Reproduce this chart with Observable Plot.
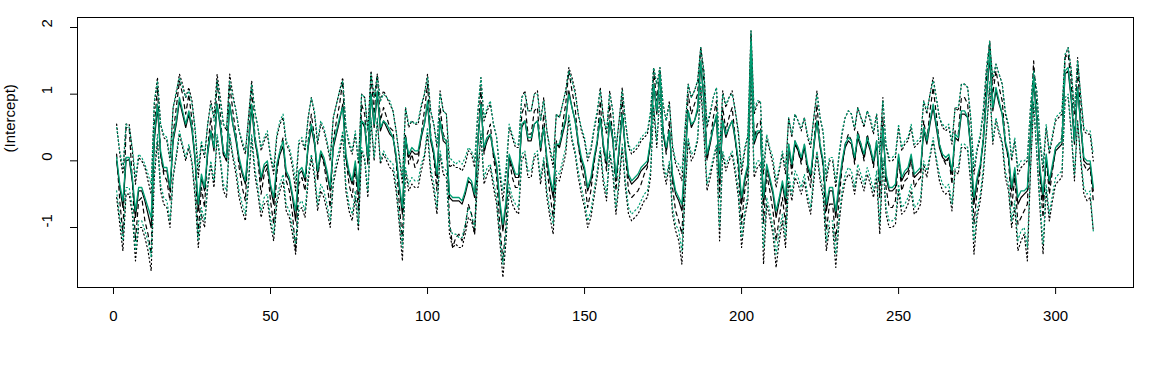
<!DOCTYPE html>
<html>
<head>
<meta charset="utf-8">
<script src="https://cdn.jsdelivr.net/npm/d3@7"></script>
<script src="https://cdn.jsdelivr.net/npm/@observablehq/plot@0.6"></script>
<style>
  html, body { margin: 0; padding: 0; background: #fff; }
  svg { display: block; }
</style>
</head>
<body>
<div id="chart"></div>
<script>
// Time index of the coefficient path
const time = d3.range(1, 313);

// Black solid: estimate (model 1)
const estBlack = [
0.00,-0.40,-0.70,0.00,0.02,-0.30,-0.85,-0.45,-0.45,-0.60,
-0.80,-1.00,0.30,0.80,0.10,-0.15,-0.15,-0.45,0.30,0.55,
0.90,0.70,0.50,0.70,0.45,0.00,-0.75,-0.25,-0.45,0.10,
0.45,0.15,0.85,0.50,0.10,0.00,0.85,0.55,0.30,0.00,
-0.20,-0.35,0.20,0.80,0.30,0.05,-0.30,-0.10,-0.05,-0.40,
-0.65,-0.10,0.10,0.22,-0.20,-0.30,-0.55,-0.90,-0.20,-0.15,
-0.30,0.20,0.50,0.25,-0.20,0.10,0.00,-0.20,-0.45,0.20,
0.40,0.60,0.85,0.05,-0.20,-0.35,-0.05,-0.50,0.60,0.50,
0.00,1.00,0.50,1.00,0.45,0.60,0.50,0.40,0.35,0.05,
-0.40,-0.80,0.35,0.05,0.15,0.10,0.10,0.35,0.55,0.85,
0.30,0.10,-0.25,0.60,0.30,0.25,-0.55,-0.60,-0.60,-0.60,
-0.65,-0.50,-0.30,-0.35,-0.55,0.25,0.85,0.15,0.30,0.40,
0.10,-0.10,-0.65,-1.05,-0.65,0.05,-0.10,-0.25,-0.25,0.50,
0.60,0.30,0.30,0.55,0.60,0.15,0.50,0.00,-0.30,-0.55,
0.25,0.20,0.40,0.60,1.05,0.80,0.60,0.25,0.00,-0.15,
-0.45,-0.30,0.00,0.25,0.65,0.20,-0.05,0.60,0.30,-0.30,
0.15,0.70,0.15,-0.25,-0.35,-0.30,-0.25,-0.15,-0.10,-0.05,
0.25,1.15,0.70,1.30,0.40,0.15,0.45,-0.25,-0.50,-0.60,
-0.75,0.00,0.75,0.50,0.60,0.75,1.45,0.90,0.05,0.25,
0.50,0.65,-0.35,0.60,0.35,0.50,0.60,0.30,-0.05,-0.65,
-0.30,-0.10,1.65,0.25,0.40,0.45,-0.65,-0.10,-0.30,-0.50,
-0.85,-0.60,-0.35,-0.65,0.20,-0.10,0.25,0.15,0.00,0.20,
-0.10,-0.25,0.20,0.60,0.20,-0.05,-0.75,-0.45,-0.45,-0.85,
-0.40,-0.05,0.20,0.30,0.25,0.00,0.35,0.20,0.05,0.30,
0.15,-0.05,0.25,-0.35,0.50,-0.25,-0.45,-0.45,-0.40,0.05,
-0.30,-0.20,-0.15,0.05,-0.25,-0.20,-0.15,0.45,0.25,0.55,
0.80,0.50,0.20,0.05,0.00,0.05,-0.20,0.35,0.30,0.70,
0.70,0.65,0.15,-0.65,-0.30,-0.10,0.30,0.95,1.55,0.75,
1.05,0.85,0.70,0.25,0.05,-0.45,-0.15,-0.65,-0.55,-0.50,
-0.45,0.35,1.20,0.60,-0.15,-0.60,0.05,-0.35,-0.10,0.15,
0.20,0.25,1.30,1.35,0.90,0.25,1.10,0.50,0.00,-0.05,
-0.05,-0.45];

// Green solid: estimate (model 2)
const estGreen = [
0.05,-0.35,-0.60,0.05,0.05,-0.25,-0.75,-0.40,-0.40,-0.55,
-0.70,-0.85,0.40,0.85,0.15,-0.10,-0.10,-0.40,0.35,0.60,
0.95,0.75,0.55,0.75,0.50,0.05,-0.65,-0.20,-0.40,0.15,
0.45,0.20,0.85,0.55,0.15,0.05,0.85,0.55,0.35,0.05,
-0.15,-0.30,0.25,0.85,0.35,0.10,-0.25,-0.05,0.00,-0.35,
-0.55,-0.05,0.15,0.30,-0.15,-0.25,-0.50,-0.75,-0.15,-0.10,
-0.25,0.25,0.55,0.30,-0.15,0.15,0.05,-0.15,-0.40,0.25,
0.45,0.65,0.80,0.10,-0.15,-0.30,0.00,-0.45,0.60,0.55,
0.05,1.00,0.55,1.05,0.50,0.60,0.55,0.45,0.35,0.10,
-0.35,-0.70,0.35,0.10,0.20,0.15,0.15,0.40,0.55,0.90,
0.35,0.15,-0.20,0.60,0.35,0.30,-0.50,-0.55,-0.55,-0.55,
-0.60,-0.45,-0.25,-0.30,-0.50,0.30,0.85,0.20,0.35,0.40,
0.15,-0.05,-0.60,-0.95,-0.60,0.10,-0.05,-0.20,-0.20,0.55,
0.60,0.35,0.35,0.55,0.60,0.20,0.50,0.05,-0.25,-0.45,
0.25,0.25,0.45,0.65,1.00,0.80,0.60,0.30,0.05,-0.10,
-0.40,-0.25,0.05,0.30,0.65,0.25,0.00,0.60,0.35,-0.25,
0.20,0.70,0.20,-0.20,-0.30,-0.25,-0.20,-0.10,-0.05,0.00,
0.30,1.15,0.75,1.30,0.45,0.20,0.45,-0.20,-0.45,-0.55,
-0.65,0.05,0.75,0.55,0.60,0.80,1.50,0.95,0.10,0.30,
0.50,0.70,-0.25,0.60,0.40,0.50,0.60,0.35,0.00,-0.55,
-0.25,-0.05,1.80,0.30,0.45,0.45,-0.55,-0.05,-0.25,-0.45,
-0.75,-0.55,-0.30,-0.55,0.25,-0.05,0.30,0.20,0.05,0.25,
-0.05,-0.20,0.25,0.60,0.25,0.00,-0.65,-0.40,-0.40,-0.75,
-0.35,0.00,0.25,0.35,0.30,0.05,0.40,0.25,0.10,0.35,
0.20,0.00,0.30,-0.30,0.50,-0.20,-0.40,-0.40,-0.35,0.10,
-0.25,-0.15,-0.10,0.10,-0.20,-0.15,-0.10,0.50,0.30,0.60,
0.85,0.55,0.25,0.10,0.05,0.10,-0.15,0.40,0.35,0.75,
0.75,0.65,0.20,-0.55,-0.25,-0.05,0.35,1.00,1.65,0.80,
1.10,0.90,0.70,0.30,0.10,-0.40,-0.10,-0.55,-0.45,-0.45,
-0.40,0.40,1.25,0.65,-0.10,-0.50,0.10,-0.30,-0.05,0.20,
0.25,0.30,1.35,1.40,0.95,0.30,1.10,0.55,0.05,0.00,
0.00,-0.40];

// Black dashed
const dashBlack = [
0.10,-0.60,-1.10,0.50,0.50,-0.30,-1.20,-0.60,-0.55,-0.90,
-1.10,-1.40,0.50,1.10,0.10,-0.20,-0.30,-0.60,0.40,0.80,
1.20,1.00,0.70,1.00,0.60,0.00,-1.10,-0.40,-0.70,0.20,
0.65,0.20,1.20,0.70,0.10,0.00,1.15,0.75,0.40,-0.10,
-0.40,-0.60,0.30,1.10,0.40,0.00,-0.50,-0.20,-0.10,-0.60,
-0.95,-0.20,0.15,0.35,-0.30,-0.45,-0.80,-1.35,-0.35,-0.25,
-0.45,0.30,0.70,0.35,-0.30,0.15,-0.05,-0.35,-0.70,0.30,
0.60,0.85,1.20,0.05,-0.35,-0.55,-0.10,-0.75,0.85,0.70,
-0.05,1.30,0.70,1.30,0.60,0.80,0.65,0.50,0.45,0.00,
-0.65,-1.20,0.40,-0.05,0.10,-0.10,0.00,0.40,0.75,1.15,
0.40,0.05,-0.45,0.80,0.40,0.30,-0.90,-1.30,-1.15,-1.10,
-1.20,-1.00,-0.65,-0.80,-1.10,0.30,1.10,0.10,0.40,0.55,
0.05,-0.25,-0.95,-1.50,-0.95,0.05,-0.25,-0.40,-0.40,0.70,
0.85,0.40,0.40,0.75,0.80,0.15,0.70,-0.10,-0.50,-0.85,
0.30,0.20,0.55,0.85,1.35,1.05,0.80,0.25,-0.10,-0.30,
-0.70,-0.45,-0.05,0.30,0.90,0.20,-0.15,0.85,0.35,-0.45,
0.15,0.95,0.10,-0.45,-0.55,-0.50,-0.45,-0.35,-0.20,-0.10,
0.30,1.35,0.90,1.35,0.50,0.10,0.60,-0.40,-0.75,-0.90,
-1.10,0.00,1.00,0.70,0.85,1.00,1.70,1.20,0.00,0.30,
0.65,0.90,-0.55,0.80,0.45,0.65,0.80,0.35,-0.15,-0.95,
-0.45,-0.20,1.90,0.30,0.55,0.60,-0.95,-0.20,-0.45,-0.75,
-1.20,-0.85,-0.55,-0.95,0.25,-0.20,0.30,0.15,-0.05,0.25,
-0.20,-0.40,0.25,0.85,0.25,-0.10,-1.05,-0.65,-0.65,-1.20,
-0.60,-0.10,0.25,0.40,0.30,-0.05,0.45,0.25,0.00,0.40,
0.20,-0.10,0.30,-0.55,0.65,-0.40,-0.70,-0.70,-0.60,0.05,
-0.45,-0.30,-0.25,0.05,-0.40,-0.30,-0.25,0.60,0.30,0.75,
1.10,0.70,0.25,0.05,-0.05,0.05,-0.35,0.45,0.40,0.95,
0.95,0.85,0.15,-0.95,-0.45,-0.15,0.40,1.25,1.80,1.00,
1.35,1.10,0.90,0.30,0.00,-0.70,-0.25,-0.95,-0.85,-0.75,
-0.65,0.45,1.50,0.80,-0.25,-0.85,0.05,-0.50,-0.15,0.20,
0.25,0.35,1.55,1.60,1.15,0.30,1.40,0.65,-0.05,-0.15,
-0.10,-0.60];

// Black dotted: upper and lower
const upperBlack = [
0.55,0.10,-0.20,0.55,0.55,0.15,-0.35,0.05,0.00,-0.10,
-0.30,-0.50,0.85,1.25,0.55,0.35,0.30,0.00,0.80,1.00,
1.30,1.15,0.95,1.10,0.90,0.45,-0.25,0.25,0.05,0.55,
0.90,0.65,1.30,0.95,0.55,0.45,1.30,1.00,0.75,0.45,
0.25,0.10,0.65,1.20,0.75,0.50,0.15,0.30,0.40,0.05,
-0.20,0.35,0.55,0.65,0.25,0.15,-0.10,-0.45,0.25,0.30,
0.15,0.65,0.95,0.70,0.25,0.55,0.45,0.25,0.00,0.65,
0.85,1.05,1.25,0.50,0.25,0.10,0.40,-0.05,1.00,0.95,
0.45,1.35,0.95,1.30,0.90,1.05,0.95,0.85,0.75,0.45,
0.05,-0.35,0.80,0.50,0.60,0.55,0.55,0.80,1.00,1.30,
0.75,0.55,0.20,1.05,0.75,0.70,-0.10,-0.05,-0.10,-0.10,
-0.15,-0.05,0.15,0.10,-0.10,0.70,1.25,0.60,0.75,0.85,
0.55,0.35,-0.20,-0.60,-0.20,0.50,0.35,0.20,0.20,0.95,
1.05,0.75,0.75,1.00,1.05,0.60,0.95,0.45,0.15,-0.10,
0.70,0.65,0.85,1.05,1.40,1.25,1.05,0.70,0.45,0.30,
0.00,0.15,0.45,0.70,1.10,0.65,0.40,1.05,0.75,0.15,
0.60,1.10,0.60,0.20,0.10,0.15,0.20,0.30,0.35,0.40,
0.70,1.40,1.15,1.40,0.85,0.60,0.90,0.20,-0.05,-0.15,
-0.30,0.45,1.15,0.95,1.05,1.20,1.70,1.35,0.50,0.70,
0.95,1.10,0.10,1.05,0.80,0.95,1.05,0.75,0.40,-0.20,
0.15,0.35,1.95,0.70,0.85,0.90,-0.20,0.35,0.15,-0.05,
-0.40,-0.15,0.10,-0.20,0.65,0.35,0.70,0.60,0.45,0.65,
0.35,0.20,0.65,1.05,0.65,0.40,-0.30,0.00,0.00,-0.40,
0.05,0.40,0.65,0.75,0.70,0.45,0.80,0.65,0.50,0.75,
0.60,0.40,0.70,0.10,0.95,0.20,0.00,0.00,0.05,0.50,
0.15,0.25,0.30,0.50,0.20,0.25,0.30,0.90,0.70,1.00,
1.25,0.95,0.65,0.50,0.45,0.50,0.25,0.80,0.75,1.15,
1.15,1.10,0.60,-0.20,0.15,0.35,0.75,1.40,1.75,1.20,
1.45,1.30,1.15,0.70,0.50,0.00,0.30,-0.20,-0.10,-0.05,
0.00,0.80,1.35,1.05,0.30,-0.15,0.50,0.10,0.35,0.60,
0.65,0.70,1.55,1.70,1.35,0.70,1.55,0.95,0.45,0.40,
0.40,0.00];

const lowerBlack = [
-0.55,-0.95,-1.35,-0.50,-0.50,-0.80,-1.50,-1.00,-1.00,-1.15,
-1.35,-1.65,-0.25,0.30,-0.45,-0.65,-0.70,-1.00,-0.25,0.05,
0.40,0.20,0.00,0.20,-0.05,-0.55,-1.30,-0.80,-1.00,-0.40,
-0.05,-0.40,0.35,0.00,-0.45,-0.55,0.35,0.05,-0.20,-0.55,
-0.75,-0.90,-0.35,0.35,-0.20,-0.50,-0.85,-0.65,-0.60,-0.95,
-1.20,-0.65,-0.45,-0.30,-0.75,-0.85,-1.10,-1.40,-0.75,-0.70,
-0.85,-0.30,0.05,-0.25,-0.75,-0.45,-0.55,-0.75,-1.00,-0.35,
-0.10,0.10,0.40,-0.45,-0.75,-0.90,-0.55,-1.05,0.15,0.00,
-0.55,0.60,0.00,0.60,-0.05,0.10,0.00,-0.10,-0.15,-0.45,
-0.95,-1.50,-0.15,-0.45,-0.35,-0.40,-0.40,-0.15,0.05,0.40,
-0.20,-0.45,-0.80,0.10,-0.20,-0.25,-1.10,-1.30,-1.25,-1.30,
-1.30,-1.10,-0.85,-0.90,-1.10,-0.25,0.40,-0.35,-0.20,-0.10,
-0.40,-0.65,-1.20,-1.75,-1.20,-0.45,-0.65,-0.75,-0.80,0.00,
0.10,-0.25,-0.25,0.05,0.10,-0.35,0.00,-0.55,-0.85,-1.10,
-0.25,-0.30,-0.10,0.10,0.65,0.30,0.10,-0.25,-0.50,-0.70,
-1.00,-0.85,-0.55,-0.25,0.15,-0.35,-0.60,0.10,-0.20,-0.80,
-0.35,0.20,-0.40,-0.80,-0.90,-0.85,-0.80,-0.70,-0.60,-0.55,
-0.25,0.80,0.20,1.00,-0.10,-0.35,-0.05,-0.80,-1.05,-1.20,
-1.55,-0.50,0.30,0.00,0.10,0.30,1.10,0.40,-0.45,-0.25,
0.00,0.20,-1.20,0.10,-0.15,0.00,0.10,-0.20,-0.55,-1.30,
-0.85,-0.60,1.25,-0.25,-0.10,-0.05,-1.55,-0.65,-0.85,-1.10,
-1.60,-1.20,-0.90,-1.30,-0.30,-0.60,-0.25,-0.35,-0.50,-0.30,
-0.60,-0.80,-0.30,0.10,-0.30,-0.55,-1.35,-1.00,-1.00,-1.60,
-0.95,-0.55,-0.30,-0.20,-0.25,-0.50,-0.15,-0.30,-0.45,-0.20,
-0.35,-0.55,-0.25,-1.10,0.00,-0.80,-1.00,-1.00,-0.95,-0.45,
-0.80,-0.75,-0.65,-0.45,-0.80,-0.75,-0.65,-0.05,-0.25,0.05,
0.30,0.00,-0.30,-0.45,-0.50,-0.45,-0.75,-0.15,-0.20,0.20,
0.20,0.15,-0.35,-1.40,-0.85,-0.60,-0.20,0.45,1.10,0.25,
0.60,0.40,0.25,-0.25,-0.45,-1.00,-0.70,-1.35,-1.20,-1.10,
-1.50,-0.15,0.85,0.10,-0.70,-1.40,-0.45,-0.90,-0.60,-0.35,
-0.30,-0.25,0.90,0.95,0.40,-0.30,0.60,0.00,-0.50,-0.60,
-0.55,-1.05];

// Green dotted: upper and lower
const upperGreen = [
0.50,0.15,-0.10,0.55,0.50,0.20,-0.25,0.10,0.05,-0.05,
-0.20,-0.35,0.90,1.20,0.55,0.40,0.35,0.05,0.80,1.05,
1.25,1.10,0.95,1.05,0.85,0.50,-0.10,0.30,0.10,0.55,
0.85,0.60,1.20,0.90,0.55,0.50,1.20,0.95,0.75,0.45,
0.30,0.15,0.65,1.15,0.75,0.50,0.20,0.35,0.45,0.10,
-0.10,0.40,0.60,0.70,0.30,0.20,0.00,-0.30,0.30,0.35,
0.20,0.65,0.95,0.75,0.30,0.60,0.50,0.30,0.05,0.65,
0.85,1.05,1.20,0.50,0.30,0.15,0.45,0.00,1.00,0.95,
0.45,1.30,0.95,1.25,0.90,1.00,0.95,0.90,0.75,0.45,
0.10,-0.25,0.80,0.55,0.60,0.55,0.60,0.85,1.00,1.25,
0.75,0.55,0.25,1.00,0.75,0.70,0.05,0.00,-0.05,0.00,
-0.05,0.05,0.20,0.15,0.00,0.75,1.25,0.65,0.80,0.90,
0.55,0.35,-0.10,-0.45,-0.10,0.55,0.40,0.25,0.25,0.95,
1.00,0.75,0.75,1.00,1.00,0.60,0.90,0.45,0.20,0.00,
0.70,0.65,0.85,1.05,1.35,1.20,1.00,0.70,0.50,0.35,
0.05,0.20,0.50,0.75,1.05,0.65,0.45,1.00,0.75,0.20,
0.60,1.05,0.60,0.25,0.15,0.20,0.25,0.35,0.40,0.45,
0.75,1.40,1.15,1.40,0.85,0.60,0.85,0.25,0.00,-0.05,
-0.15,0.50,1.15,0.95,1.05,1.20,1.70,1.35,0.55,0.75,
0.95,1.10,0.15,1.00,0.85,0.95,1.00,0.75,0.45,-0.10,
0.20,0.40,1.95,0.75,0.90,0.90,-0.10,0.40,0.20,0.05,
-0.30,-0.10,0.15,-0.10,0.65,0.40,0.70,0.60,0.50,0.65,
0.40,0.25,0.65,1.00,0.65,0.45,-0.20,0.05,0.05,-0.30,
0.10,0.45,0.65,0.75,0.70,0.50,0.80,0.65,0.55,0.75,
0.65,0.45,0.70,0.15,0.90,0.25,0.05,0.05,0.10,0.55,
0.20,0.30,0.35,0.55,0.25,0.30,0.35,0.90,0.75,1.00,
1.20,0.95,0.65,0.55,0.50,0.55,0.30,0.80,0.80,1.15,
1.15,1.10,0.65,-0.10,0.20,0.40,0.80,1.40,1.80,1.25,
1.45,1.30,1.15,0.75,0.55,0.05,0.35,-0.10,0.00,0.00,
0.05,0.80,1.35,1.05,0.35,-0.05,0.55,0.15,0.40,0.65,
0.70,0.75,1.60,1.70,1.35,0.75,1.50,1.00,0.50,0.45,
0.45,0.10];

const lowerGreen = [
-0.45,-0.85,-1.20,-0.40,-0.40,-0.70,-1.35,-0.90,-0.90,-1.05,
-1.20,-1.45,-0.15,0.40,-0.35,-0.55,-0.60,-0.90,-0.20,0.10,
0.45,0.25,0.05,0.25,0.00,-0.45,-1.20,-0.70,-0.90,-0.30,
0.00,-0.30,0.40,0.05,-0.35,-0.45,0.40,0.10,-0.10,-0.45,
-0.65,-0.80,-0.25,0.40,-0.10,-0.40,-0.75,-0.55,-0.50,-0.85,
-1.10,-0.55,-0.35,-0.20,-0.65,-0.75,-1.00,-1.25,-0.65,-0.60,
-0.75,-0.20,0.10,-0.15,-0.65,-0.35,-0.45,-0.65,-0.90,-0.25,
0.00,0.20,0.45,-0.35,-0.65,-0.80,-0.45,-0.95,0.20,0.05,
-0.45,0.65,0.05,0.65,0.00,0.15,0.05,0.00,-0.05,-0.35,
-0.85,-1.30,-0.10,-0.35,-0.25,-0.30,-0.30,-0.05,0.10,0.50,
-0.10,-0.35,-0.70,0.15,-0.10,-0.15,-1.00,-1.10,-1.10,-1.15,
-1.15,-0.95,-0.70,-0.80,-1.00,-0.15,0.45,-0.25,-0.10,-0.05,
-0.30,-0.55,-1.10,-1.55,-1.05,-0.35,-0.55,-0.65,-0.70,0.10,
0.15,-0.15,-0.15,0.10,0.15,-0.25,0.05,-0.45,-0.75,-0.95,
-0.15,-0.20,0.00,0.20,0.70,0.35,0.15,-0.15,-0.40,-0.60,
-0.90,-0.75,-0.45,-0.15,0.20,-0.25,-0.50,0.15,-0.10,-0.70,
-0.25,0.25,-0.30,-0.70,-0.80,-0.75,-0.70,-0.60,-0.50,-0.45,
-0.15,0.85,0.30,1.05,0.00,-0.25,0.00,-0.70,-0.95,-1.05,
-1.35,-0.40,0.35,0.10,0.15,0.35,1.20,0.50,-0.35,-0.15,
0.05,0.25,-1.00,0.15,-0.05,0.05,0.15,-0.10,-0.45,-1.15,
-0.75,-0.50,1.40,-0.15,0.00,0.00,-1.30,-0.55,-0.75,-1.00,
-1.40,-1.05,-0.80,-1.15,-0.20,-0.50,-0.15,-0.25,-0.40,-0.20,
-0.50,-0.70,-0.20,0.15,-0.20,-0.45,-1.20,-0.90,-0.90,-1.40,
-0.85,-0.45,-0.20,-0.10,-0.15,-0.40,-0.05,-0.20,-0.35,-0.10,
-0.25,-0.45,-0.15,-0.95,0.05,-0.70,-0.90,-0.90,-0.85,-0.35,
-0.70,-0.65,-0.55,-0.35,-0.70,-0.65,-0.55,0.00,-0.15,0.10,
0.35,0.05,-0.20,-0.35,-0.40,-0.35,-0.65,-0.10,-0.10,0.25,
0.25,0.20,-0.25,-1.20,-0.75,-0.50,-0.10,0.50,1.20,0.30,
0.65,0.45,0.30,-0.15,-0.35,-0.90,-0.60,-1.20,-1.05,-1.00,
-1.30,-0.10,0.90,0.15,-0.60,-1.25,-0.35,-0.80,-0.50,-0.25,
-0.20,-0.15,0.95,1.00,0.45,-0.20,0.60,0.05,-0.40,-0.50,
-0.45,-1.05];

const xTicks = [0, 50, 100, 150, 200, 250, 300];
const yTicks = [-1, 0, 1, 2];
const yTitle = "(Intercept)";

const GREEN = "#009E73";
const FONT = "Liberation Sans, Arial, Helvetica, sans-serif";

function series(vals) {
  return time.map((t, i) => ({t, v: vals[i]}));
}
const lineOpts = (stroke, dash, w) => ({
  x: "t", y: "v", stroke, strokeWidth: w, strokeDasharray: dash,
  curve: "linear", strokeLinejoin: "round"
});

const chart = Plot.plot({
  width: 1152,
  height: 384,
  marginLeft: 77,
  marginRight: 19,
  marginTop: 17,
  marginBottom: 97,
  style: {fontFamily: FONT, fontSize: "15px", color: "#000", background: "#fff"},
  x: {domain: [-11.46, 324.8], label: null},
  y: {domain: [-1.9, 2.15], label: null},
  marks: [
    Plot.line(series(upperBlack), lineOpts("#000", "1.2,2.8", 1.2)),
    Plot.line(series(lowerBlack), lineOpts("#000", "1.2,2.8", 1.2)),
    Plot.line(series(dashBlack), lineOpts("#000", "4,4", 1.2)),
    Plot.line(series(estBlack), lineOpts("#000", null, 1.2)),
    Plot.line(series(upperGreen), lineOpts(GREEN, "1.2,2.8", 1.2)),
    Plot.line(series(lowerGreen), lineOpts(GREEN, "1.2,2.8", 1.2)),
    Plot.line(series(estGreen), lineOpts(GREEN, null, 1.3)),
    Plot.frame({stroke: "#000", strokeWidth: 1}),
    Plot.axisX({ticks: xTicks, tickSize: 7, tickPadding: 16, tickFormat: d => String(d), label: null, fontSize: 15}),
    Plot.axisY({ticks: yTicks, tickSize: 7, tickFormat: () => "", label: null}),
    Plot.text(yTicks, {y: d => d, text: d => String(d), frameAnchor: "left", dx: -30, rotate: -90, fontSize: 15, fill: "#000"}),
    Plot.text([yTitle], {frameAnchor: "left", dx: -67, rotate: -90, fontSize: 15, fill: "#000"})
  ]
});
document.getElementById("chart").appendChild(chart);
</script>
</body>
</html>
